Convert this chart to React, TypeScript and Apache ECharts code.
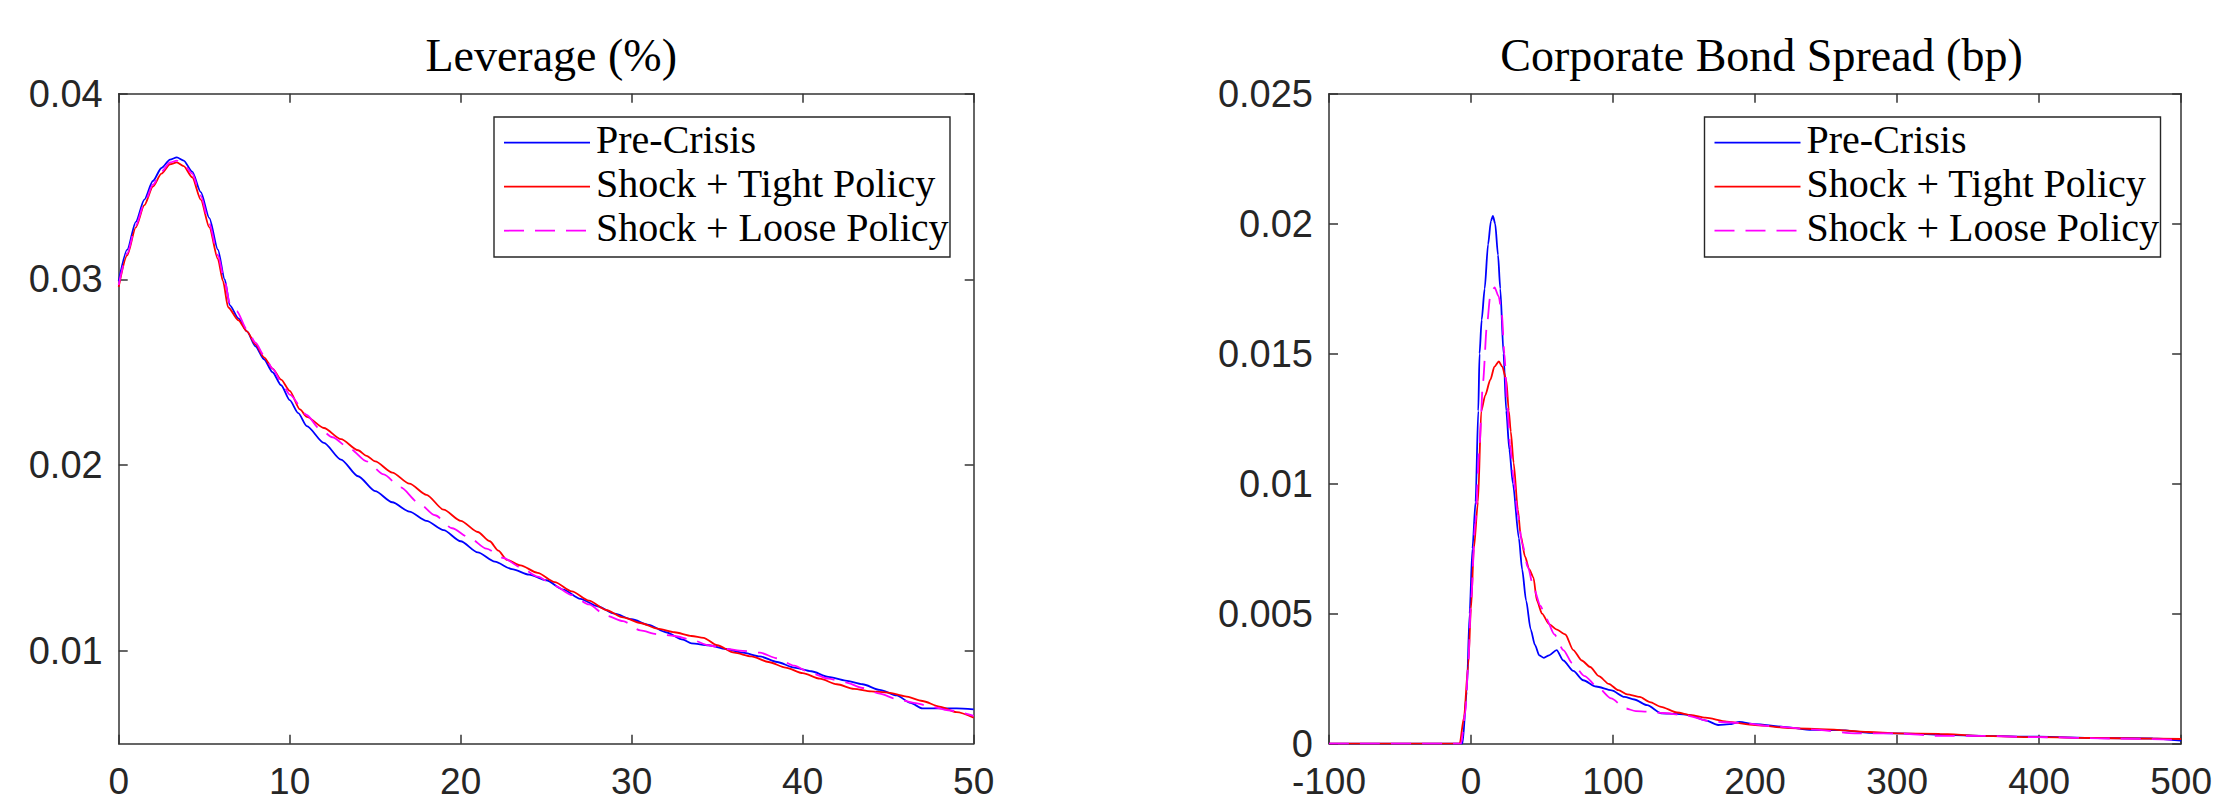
import React, { useEffect, useRef } from 'react';
import * as echarts from 'echarts';

const seriesNames = ['Pre-Crisis', 'Shock + Tight Policy', 'Shock + Loose Policy'];
const titles = ['Leverage (%)', 'Corporate Bond Spread (bp)'];

const levXTicks = [0, 10, 20, 30, 40, 50];
const levYTicks = [0.01, 0.02, 0.03, 0.04];
const sprXTicks = [-100, 0, 100, 200, 300, 400, 500];
const sprYTicks = [0, 0.005, 0.01, 0.015, 0.02, 0.025];

const levPre = [
  [0, 0.0299], [0.5, 0.0316], [1, 0.0331], [1.5, 0.0343], [2, 0.0353], [2.5, 0.036], [3, 0.03645], [3.4, 0.03657],
  [3.8, 0.0364], [4.3, 0.0358], [4.8, 0.0347], [5.3, 0.0333], [5.8, 0.0316], [6.2, 0.03], [6.5, 0.0286], [7, 0.0279],
  [7.5, 0.0272], [8, 0.0264], [8.5, 0.0257], [9, 0.025], [9.5, 0.0243], [10, 0.0235], [10.5, 0.0228], [11, 0.0221],
  [12, 0.0212], [13, 0.0203], [14, 0.0194], [15, 0.0186], [16, 0.018], [17, 0.0175], [18, 0.017], [19, 0.0165],
  [20, 0.0159], [21, 0.0153], [22, 0.0148], [23, 0.0144], [24, 0.0141], [25, 0.0138], [26, 0.0133], [27, 0.0128],
  [28, 0.0124], [29, 0.012], [30, 0.0117], [31, 0.0114], [32, 0.011], [33, 0.0106], [33.5, 0.0104], [34.5, 0.0103],
  [35.5, 0.0101], [36.5, 0.0099], [37.5, 0.0097], [38.5, 0.0094], [39.5, 0.0091], [40.5, 0.0089], [41.5, 0.0086],
  [42.5, 0.0084], [43.5, 0.0082], [44.5, 0.0079], [45.5, 0.0076], [46.3, 0.0072], [47, 0.0069], [48, 0.0069],
  [49, 0.0069], [50, 0.00685],
];

const levTight = [
  [0, 0.0296], [0.5, 0.0313], [1, 0.0328], [1.5, 0.034], [2, 0.035], [2.5, 0.0357], [3, 0.0362], [3.4, 0.0363],
  [3.8, 0.0361], [4.3, 0.0355], [4.8, 0.0343], [5.3, 0.0328], [5.8, 0.0311], [6.1, 0.0299], [6.4, 0.0285], [7, 0.0278],
  [7.5, 0.0272], [8, 0.0265], [8.5, 0.0258], [9, 0.0252], [9.5, 0.0246], [10, 0.024], [10.6, 0.023], [11, 0.0226],
  [12, 0.022], [13, 0.0214], [14, 0.0208], [14.5, 0.0205], [15, 0.0202], [16, 0.0196], [17, 0.019], [18, 0.0184],
  [19, 0.0176], [20, 0.017], [21, 0.0164], [21.7, 0.0159], [22.2, 0.0154], [22.7, 0.0149], [23.5, 0.0146],
  [24.5, 0.0142], [25.5, 0.0137], [26.5, 0.0132], [27.5, 0.0127], [28.5, 0.0122], [29.5, 0.0118], [30.5, 0.0115],
  [31.5, 0.0112], [32.5, 0.011], [33.5, 0.0108], [34.2, 0.0107], [35, 0.0103], [36, 0.0099], [37, 0.0097],
  [38, 0.0094], [39, 0.0091], [40, 0.0088], [41, 0.0085], [42, 0.0082], [43, 0.00795], [44, 0.00782], [45, 0.00775],
  [46, 0.00755], [47, 0.0073], [48, 0.007], [49, 0.0067], [50, 0.0064],
];

const levLoose = [
  [0, 0.0297], [0.5, 0.0314], [1, 0.0329], [1.5, 0.0341], [2, 0.0351], [2.5, 0.0358], [3, 0.0363], [3.4, 0.0364],
  [3.8, 0.0362], [4.3, 0.0357], [4.8, 0.0345], [5.3, 0.033], [5.8, 0.0313], [6.2, 0.0299], [6.5, 0.0287], [6.9, 0.0283],
  [7.5, 0.0273], [8, 0.0266], [8.5, 0.0259], [9, 0.0252], [9.5, 0.0245], [10, 0.0238], [11, 0.0227], [11.7, 0.022],
  [12.5, 0.0215], [13.5, 0.0209], [14.5, 0.0202], [15.5, 0.0195], [16.5, 0.0188], [17.5, 0.018], [18.5, 0.0173],
  [19.5, 0.0166], [20.5, 0.0161], [21.5, 0.0155], [22.5, 0.015], [23.5, 0.0145], [24.5, 0.014], [25.5, 0.0135],
  [26.5, 0.013], [27.5, 0.0125], [28.5, 0.0119], [29.5, 0.0116], [30.5, 0.0111], [31.5, 0.0109], [32.5, 0.0108],
  [33.5, 0.0106], [34.5, 0.0103], [35.5, 0.0101], [36.5, 0.01], [37.5, 0.0099], [38.5, 0.0096], [39.5, 0.0092],
  [40.5, 0.0088], [41.5, 0.0085], [42.5, 0.0083], [43.5, 0.008], [44.5, 0.0077], [45.5, 0.0074], [46.5, 0.0072],
  [47.5, 0.007], [48.5, 0.0068], [50, 0.0065],
];

const sprPre = [
  [-100, 0], [-6, 0], [-3, 0.002], [-1, 0.005], [1, 0.0075], [3.2, 0.0093], [5.1, 0.0128], [6, 0.015], [7.5, 0.0163],
  [9.6, 0.0175], [12, 0.0192], [14, 0.0201], [15.4, 0.0203], [17, 0.02], [19, 0.0188], [20.6, 0.0175], [22.9, 0.015],
  [24.8, 0.0128], [27, 0.0113], [29.5, 0.01], [33.7, 0.0079], [36, 0.0067], [38.8, 0.0055], [42, 0.0044], [45, 0.0038],
  [48, 0.0034], [51.3, 0.0033], [55, 0.0034], [60.3, 0.0036], [65, 0.0032], [72, 0.0028], [79, 0.00244], [88, 0.0022],
  [99, 0.00205], [108, 0.0018], [115, 0.0017], [124, 0.00148], [134, 0.00117], [145, 0.00115], [154, 0.0011],
  [165, 0.0009], [174, 0.00072], [182, 0.00075], [189, 0.00084], [200, 0.00075], [220, 0.00065], [240, 0.00053],
  [260, 0.00052], [280, 0.00042], [300, 0.0004], [340, 0.00033], [360, 0.0003], [400, 0.00027], [440, 0.00022],
  [480, 0.0002], [500, 0.00012],
];

const sprTight = [
  [-100, 0], [-8, 0], [-5, 0.001], [-2, 0.003], [0, 0.0052], [2, 0.0075], [4.9, 0.0093], [7.2, 0.0128], [10, 0.0134],
  [13.6, 0.014], [16.5, 0.0145], [19.6, 0.0147], [22, 0.0145], [24.8, 0.014], [26.6, 0.0128], [28, 0.012], [30, 0.0108],
  [33, 0.009], [35, 0.008], [38, 0.0072], [41, 0.0067], [43.9, 0.0064], [46.4, 0.0055], [50, 0.005], [55, 0.0046],
  [60, 0.0044], [66.4, 0.0042], [72, 0.0036], [78, 0.0032], [83.9, 0.00295], [90, 0.0026], [97, 0.0023],
  [103.7, 0.00206], [110, 0.0019], [118.8, 0.0018], [126, 0.0016], [133.8, 0.00142], [145, 0.0012], [155, 0.0011],
  [165, 0.001], [180, 0.00085], [200, 0.00072], [225, 0.0006], [250, 0.00055], [280, 0.00045], [300, 0.0004],
  [330, 0.00038], [360, 0.0003], [400, 0.00025], [440, 0.00022], [470, 0.0002], [500, 0.00018],
];

const sprLoose = [
  [-100, 0], [-7, 0], [-4, 0.0012], [-2, 0.003], [0, 0.0055], [3, 0.0085], [6, 0.0115], [8.4, 0.0139], [11.2, 0.0161],
  [13.5, 0.0172], [16.6, 0.01755], [19.5, 0.0172], [21.7, 0.0165], [23.5, 0.015], [25.5, 0.013], [27.5, 0.0115],
  [30, 0.0102], [33, 0.0088], [36, 0.0077], [40, 0.0068], [44, 0.006], [48.9, 0.0053], [53, 0.0048], [58.7, 0.0042],
  [65, 0.0036], [71.3, 0.0031], [80, 0.0026], [88.9, 0.00219], [98.7, 0.00174], [108.6, 0.00136], [116, 0.00125],
  [123.7, 0.00123], [135, 0.00118], [150, 0.0011], [170, 0.00085], [190, 0.0008], [210, 0.00068], [240, 0.00055],
  [270, 0.0004], [300, 0.0004], [330, 0.0003], [360, 0.0003], [400, 0.00025], [450, 0.0002], [500, 0.00015],
];

const COLORS = ['#0000ff', '#ff0000', '#ff00ff'];
const DASH = [20, 11];
const AX = '#333333';
const TICKTXT = '#262626';
const SANS = 'Liberation Sans, Arial, sans-serif';
const SERIF = '"Liberation Serif", "Times New Roman", serif';

const GRID_TOP = 93.7;
const GRID_H = 650;
const GRID_W = 855;
const GRID_LEFTS = [118.7, 1329];

const fmt = (v: number) => String(+Number(v).toFixed(4));

function xAxis(gridIndex: number, min: number, max: number, interval: number, ticks: number[], top: boolean) {
  return {
    type: 'value', gridIndex, min, max, interval, position: top ? 'top' : 'bottom',
    axisLine: { show: true, onZero: false, lineStyle: { color: AX, width: 1.5 } },
    axisTick: { show: true, inside: true, length: 9, customValues: ticks, lineStyle: { color: AX, width: 1.5 } },
    axisLabel: {
      show: !top, customValues: ticks, color: TICKTXT, fontFamily: SANS,
      fontSize: 37, lineHeight: 37, margin: 19, formatter: fmt, hideOverlap: false, showMinLabel: true, showMaxLabel: true,
    },
    splitLine: { show: false },
  };
}

function yAxis(gridIndex: number, min: number, max: number, interval: number, ticks: number[], right: boolean) {
  return {
    type: 'value', gridIndex, min, max, interval, position: right ? 'right' : 'left',
    axisLine: { show: true, onZero: false, lineStyle: { color: AX, width: 1.5 } },
    axisTick: { show: true, inside: true, length: 9, customValues: ticks, lineStyle: { color: AX, width: 1.5 } },
    axisLabel: {
      show: !right, customValues: ticks, color: TICKTXT, fontFamily: SANS,
      fontSize: 38, margin: 16, formatter: fmt, hideOverlap: false, showMinLabel: true, showMaxLabel: true,
    },
    splitLine: { show: false },
  };
}

function legendGraphic(x0: number, y0: number) {
  const els: any[] = [
    { type: 'rect', z: 100, shape: { x: x0, y: y0, width: 456, height: 140 }, style: { fill: '#ffffff', stroke: '#262626', lineWidth: 1.4 } },
  ];
  seriesNames.forEach((name, i) => {
    const ly = y0 + 25.7 + i * 44;
    els.push({
      type: 'line', z: 101,
      shape: { x1: x0 + 10, y1: ly, x2: x0 + 96, y2: ly },
      style: { stroke: COLORS[i], lineWidth: 1.8, lineDash: i === 2 ? DASH : null },
    });
    els.push({
      type: 'text', z: 101, x: x0 + 102, y: y0 + 22 + i * 44,
      style: { text: name, fill: '#000000', font: '40px ' + SERIF, verticalAlign: 'middle', align: 'left' },
    });
  });
  return els;
}

function lineSeries(name: string, data: number[][], i: number, axisIdx: number) {
  return {
    type: 'line', name, data, xAxisIndex: axisIdx, yAxisIndex: axisIdx,
    showSymbol: false, symbol: 'none', smooth: 0.25, smoothMonotone: 'x',
    lineStyle: { color: COLORS[i], width: 1.8, type: i === 2 ? DASH : 'solid' },
    itemStyle: { color: COLORS[i] }, z: 3,
  };
}

export default function App() {
  const ref = useRef<HTMLDivElement>(null);
  useEffect(() => {
    if (!ref.current) return;
    const chart = echarts.init(ref.current, null, { renderer: 'svg' });
    const option: any = {
      animation: false,
      backgroundColor: '#ffffff',
      title: titles.map((t, i) => ({
        text: t,
        left: GRID_LEFTS[i] + GRID_W / 2,
        top: 27,
        textAlign: 'center',
        textStyle: { fontFamily: SERIF, fontSize: 46, fontWeight: 'normal', color: '#000000' },
      })),
      grid: GRID_LEFTS.map((l) => ({ left: l, top: GRID_TOP, width: GRID_W, height: GRID_H, containLabel: false })),
      xAxis: [
        xAxis(0, 0, 50, 10, levXTicks, false),
        xAxis(0, 0, 50, 10, levXTicks, true),
        xAxis(1, -100, 500, 100, sprXTicks, false),
        xAxis(1, -100, 500, 100, sprXTicks, true),
      ],
      yAxis: [
        yAxis(0, 0.005, 0.04, 0.005, levYTicks, false),
        yAxis(0, 0.005, 0.04, 0.005, levYTicks, true),
        yAxis(1, 0, 0.025, 0.005, sprYTicks, false),
        yAxis(1, 0, 0.025, 0.005, sprYTicks, true),
      ],
      series: [
        lineSeries(seriesNames[0], levPre, 0, 0),
        lineSeries(seriesNames[1], levTight, 1, 0),
        lineSeries(seriesNames[2], levLoose, 2, 0),
        lineSeries(seriesNames[0], sprPre, 0, 2),
        lineSeries(seriesNames[1], sprTight, 1, 2),
        lineSeries(seriesNames[2], sprLoose, 2, 2),
      ],
      graphic: [...legendGraphic(494, 117), ...legendGraphic(1704.5, 117)],
    };
    chart.setOption(option);
    return () => chart.dispose();
  }, []);
  return <div ref={ref} style={{ position: 'absolute', left: 0, top: 0, width: 2215, height: 801 }} />;
}
